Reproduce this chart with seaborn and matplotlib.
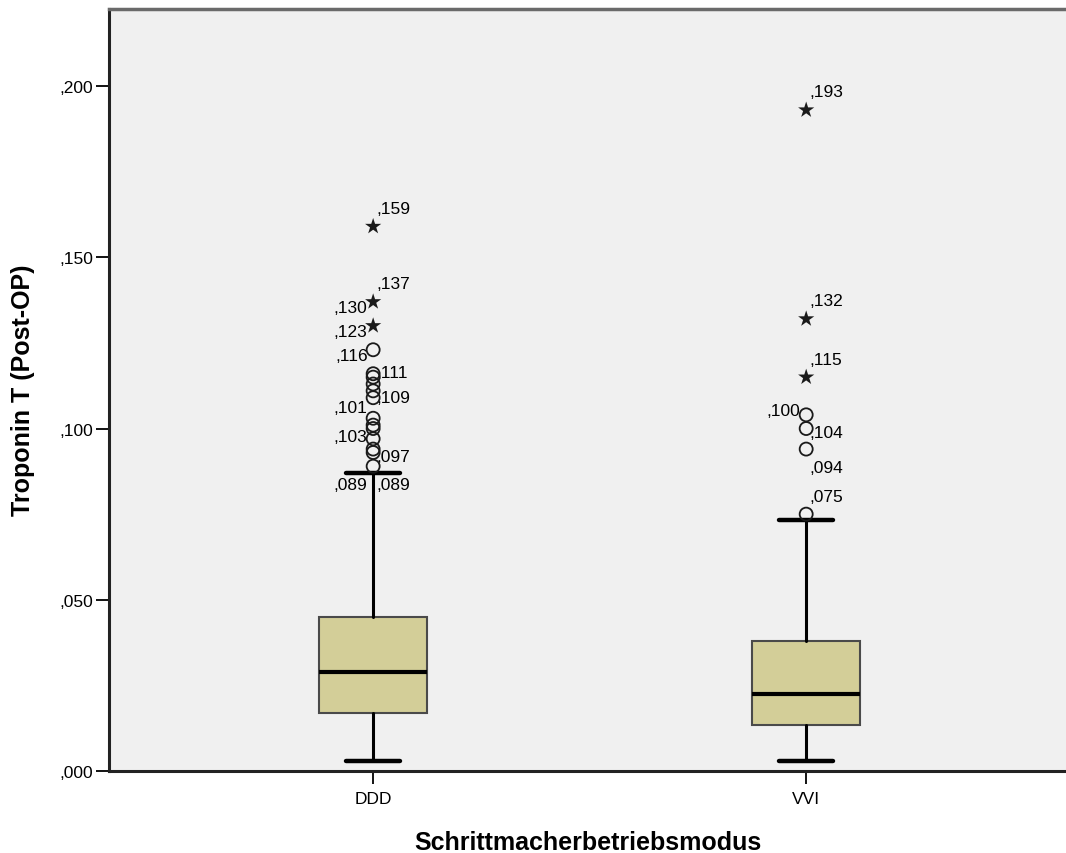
import matplotlib
matplotlib.use("Agg")
import matplotlib.pyplot as plt
from matplotlib.ticker import FuncFormatter
import seaborn as sns
import pandas as pd

# Pacing modes and box statistics for post-op troponin T
categories = ["DDD", "VVI"]
whisker_low = [0.003, 0.003]
q1 = [0.0169, 0.0134]
median = [0.0289, 0.0225]
q3 = [0.0450, 0.0380]
whisker_high = [0.0870, 0.0733]

# Outliers (circles) and extreme values (stars)
ddd_outliers = [0.123, 0.116, 0.115, 0.113, 0.111, 0.109, 0.103, 0.101, 0.100,
                0.097, 0.094, 0.093, 0.089]
ddd_extremes = [0.159, 0.137, 0.130]
vvi_outliers = [0.104, 0.100, 0.094, 0.075]
vvi_extremes = [0.193, 0.132, 0.115]

# Point labels: group, value, text, side, vertical placement
label_group = [0, 0, 0, 0, 0, 0, 0, 0, 0, 0, 0, 0,
               1, 1, 1, 1, 1, 1, 1]
label_value = [0.159, 0.137, 0.130, 0.123, 0.116, 0.111, 0.109, 0.101, 0.103,
               0.097, 0.089, 0.089,
               0.193, 0.132, 0.115, 0.100, 0.104, 0.094, 0.075]
label_text = [",159", ",137", ",130", ",123", ",116", ",111", ",109", ",101", ",103",
              ",097", ",089", ",089",
              ",193", ",132", ",115", ",100", ",104", ",094", ",075"]
label_side = ["r", "r", "l", "l", "l", "r", "r", "l", "l", "r", "l", "r",
              "r", "r", "r", "l", "r", "r", "r"]
label_vpos = ["a", "a", "a", "a", "a", "a", "m", "a", "b", "b", "b", "b",
              "a", "a", "a", "a", "b", "b", "a"]

sns.set_theme(style="ticks")
plt.rcParams["font.family"] = ["Liberation Sans", "DejaVu Sans"]
plt.rcParams["text.color"] = "black"
plt.rcParams["axes.labelcolor"] = "black"

BOX_COLOR = "#D3CE98"
BG = "#F0F0F0"
SMALL = 12.5
TITLE = 18

fig = plt.figure(figsize=(10.66, 8.54), dpi=100)
fig.patch.set_facecolor("white")
ax = fig.add_axes([109 / 1066, 82 / 854, 957 / 1066, 762 / 854])
ax.set_facecolor(BG)

stats = []
for i, name in enumerate(categories):
    stats.append(dict(label=name, whislo=whisker_low[i], q1=q1[i], med=median[i],
                      q3=q3[i], whishi=whisker_high[i], fliers=[]))

positions = list(range(len(categories)))
ax.bxp(stats, positions=positions, widths=0.25, patch_artist=True, showfliers=False,
       boxprops=dict(facecolor=BOX_COLOR, edgecolor="#4a4a4a", linewidth=1.5),
       medianprops=dict(color="black", linewidth=3),
       whiskerprops=dict(color="black", linewidth=2.2),
       capprops=dict(color="black", linewidth=3.2), capwidths=0.125)

out_df = pd.DataFrame({
    "x": [0] * len(ddd_outliers) + [1] * len(vvi_outliers),
    "y": ddd_outliers + vvi_outliers,
})
ext_df = pd.DataFrame({
    "x": [0] * len(ddd_extremes) + [1] * len(vvi_extremes),
    "y": ddd_extremes + vvi_extremes,
})
sns.scatterplot(data=out_df, x="x", y="y", ax=ax, marker="o", s=88,
                facecolor="none", edgecolor="#1a1a1a", linewidth=1.3, zorder=4)
sns.scatterplot(data=ext_df, x="x", y="y", ax=ax, marker="*", s=150,
                color="#1a1a1a", edgecolor="none", linewidth=0, zorder=4)

for g, v, t, side, vp in zip(label_group, label_value, label_text, label_side, label_vpos):
    dx = 2 if side == "r" else -4
    dy = {"a": 13, "b": -13, "m": 0}[vp]
    ax.annotate(t, xy=(g, v), xytext=(dx, dy), textcoords="offset points",
                ha="left" if side == "r" else "right", va="center",
                fontsize=SMALL, color="black")

ax.set_xlim(-0.61, 1.60)
ax.set_ylim(0, 0.2225)
ax.set_xticks(positions)
ax.set_xticklabels(categories)
ax.set_yticks([0, 0.05, 0.10, 0.15, 0.20])
ax.yaxis.set_major_formatter(FuncFormatter(lambda v, p: f"{v:.3f}"[1:].replace(".", ",")))
ax.tick_params(axis="both", direction="out", length=9.5, width=1.3, labelsize=SMALL,
               colors="black")
ax.tick_params(axis="y", pad=2)
ax.tick_params(axis="x", pad=5)

for s in ["left", "bottom"]:
    ax.spines[s].set_color("#222222")
    ax.spines[s].set_linewidth(2.2)
ax.spines["top"].set_color("#6a6a6a")
ax.spines["top"].set_linewidth(2.5)
ax.spines["right"].set_visible(False)

ax.set_xlabel("Schrittmacherbetriebsmodus", fontsize=TITLE, fontweight="bold", color="black")
ax.set_ylabel("Troponin T (Post-OP)", fontsize=TITLE, fontweight="bold", color="black")
ax.xaxis.set_label_coords(0.5, -0.077)
ax.yaxis.set_label_coords(-0.0775, 0.501)

fig.savefig("out.png", dpi=100, facecolor="white")
